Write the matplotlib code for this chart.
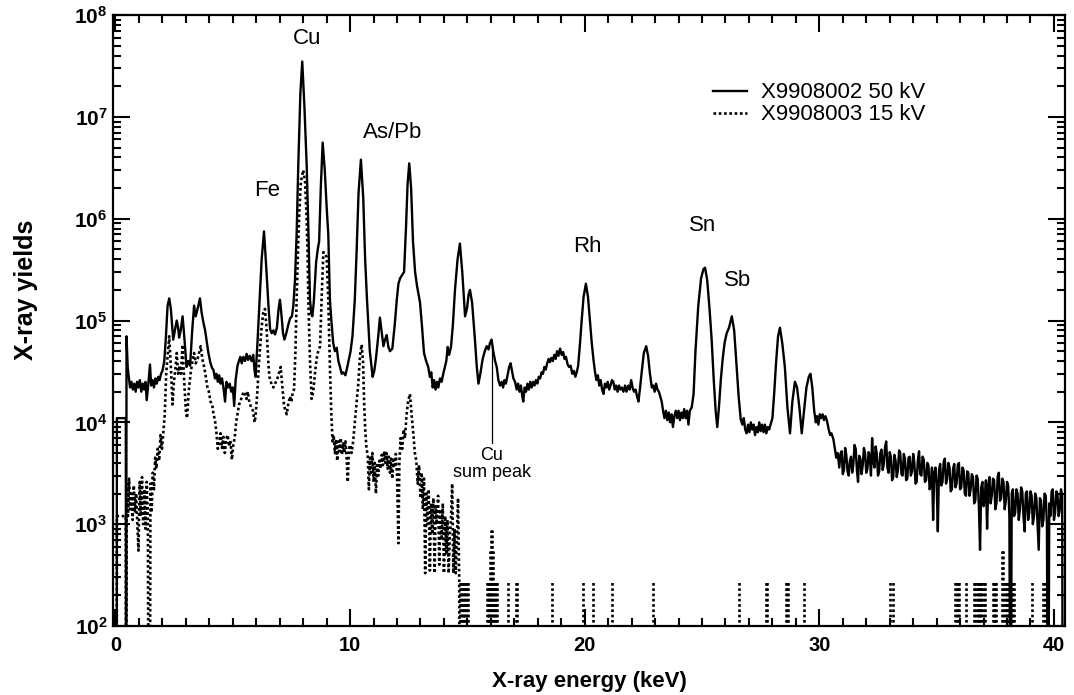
import numpy as np
import matplotlib
matplotlib.use('Agg')
import matplotlib.pyplot as plt
from matplotlib.ticker import MultipleLocator, LogLocator, NullFormatter

plt.rcParams['font.family'] = 'Liberation Sans'
plt.rcParams['mathtext.fontset'] = 'custom'
plt.rcParams['mathtext.rm'] = 'Liberation Sans'
plt.rcParams['mathtext.bf'] = 'Liberation Sans:bold'

# ---- 50 kV spectrum (X9908002), energy in keV, counts ----
# a count of 1 means "empty channel" (falls below the 10^2 axis floor)
e50 = [0.05, 0.06, 0.44, 0.45, 0.47, 0.52, 0.55, 0.62, 0.68, 0.74,
       0.80, 0.86, 0.92, 0.98, 1.04, 1.10, 1.16, 1.22, 1.28, 1.33,
       1.40, 1.47, 1.52, 1.58, 1.64, 1.70, 1.76, 1.82, 1.88, 1.94,
       2.00, 2.08, 2.15, 2.22, 2.29, 2.36, 2.46, 2.53, 2.61, 2.67,
       2.71, 2.78, 2.86, 2.93, 3.03, 3.10, 3.18, 3.27, 3.35, 3.42,
       3.46, 3.53, 3.60, 3.67, 3.75, 3.82, 3.90, 3.96, 4.05, 4.12,
       4.17, 4.24, 4.30, 4.36, 4.42, 4.48, 4.54, 4.60, 4.67, 4.73,
       4.80, 4.87, 4.93, 5.00, 5.06, 5.12, 5.20, 5.26, 5.32, 5.38,
       5.45, 5.52, 5.59, 5.65, 5.72, 5.80, 5.87, 5.93, 5.97, 6.05,
       6.13, 6.23, 6.33, 6.42, 6.52, 6.59, 6.66, 6.73, 6.80, 6.88,
       6.95, 7.01, 7.08, 7.14, 7.20, 7.28, 7.36, 7.44, 7.52, 7.58,
       7.65, 7.72, 7.79, 7.88, 7.96, 8.05, 8.15, 8.22, 8.29, 8.35,
       8.39, 8.45, 8.55, 8.62, 8.68, 8.75, 8.83, 8.92, 9.00, 9.07,
       9.14, 9.20, 9.28, 9.35, 9.43, 9.50, 9.57, 9.64, 9.71, 9.80,
       9.88, 9.95, 10.02, 10.10, 10.20, 10.28, 10.36, 10.46, 10.56, 10.64,
       10.72, 10.84, 10.96, 11.03, 11.10, 11.20, 11.27, 11.35, 11.42, 11.49,
       11.56, 11.63, 11.70, 11.80, 11.90, 11.99, 12.06, 12.13, 12.22, 12.30,
       12.38, 12.45, 12.52, 12.60, 12.68, 12.77, 12.85, 12.98, 13.06, 13.15,
       13.24, 13.33, 13.40, 13.46, 13.52, 13.58, 13.64, 13.70, 13.76, 13.83,
       13.90, 13.97, 14.04, 14.10, 14.16, 14.22, 14.30, 14.38, 14.47, 14.58,
       14.68, 14.78, 14.90, 14.98, 15.05, 15.11, 15.20, 15.32, 15.40, 15.47,
       15.55, 15.65, 15.74, 15.82, 15.90, 15.96, 16.03, 16.10, 16.18, 16.25,
       16.32, 16.39, 16.46, 16.52, 16.58, 16.64, 16.72, 16.78, 16.84, 16.90,
       16.96, 17.03, 17.10, 17.16, 17.22, 17.28, 17.34, 17.38, 17.44, 17.50,
       17.56, 17.62, 17.68, 17.74, 17.80, 17.86, 17.92, 17.98, 18.04, 18.10,
       18.16, 18.22, 18.28, 18.34, 18.40, 18.46, 18.52, 18.58, 18.64, 18.70,
       18.76, 18.82, 18.88, 18.95, 19.02, 19.08, 19.14, 19.20, 19.27, 19.33,
       19.40, 19.47, 19.54, 19.60, 19.66, 19.72, 19.80, 19.87, 19.95, 20.05,
       20.14, 20.22, 20.30, 20.38, 20.44, 20.50, 20.56, 20.62, 20.68, 20.74,
       20.80, 20.86, 20.92, 20.98, 21.04, 21.10, 21.16, 21.22, 21.28, 21.34,
       21.40, 21.46, 21.52, 21.58, 21.65, 21.72, 21.78, 21.86, 21.92, 21.98,
       22.04, 22.10, 22.17, 22.23, 22.29, 22.36, 22.44, 22.52, 22.62, 22.70,
       22.78, 22.86, 22.92, 22.98, 23.04, 23.10, 23.16, 23.22, 23.28, 23.34,
       23.40, 23.46, 23.52, 23.58, 23.64, 23.70, 23.76, 23.82, 23.88, 23.94,
       24.00, 24.06, 24.12, 24.18, 24.24, 24.30, 24.36, 24.42, 24.48, 24.56,
       24.64, 24.72, 24.84, 24.96, 25.06, 25.13, 25.22, 25.32, 25.41, 25.50,
       25.58, 25.65, 25.72, 25.80, 25.88, 25.96, 26.05, 26.15, 26.27, 26.37,
       26.47, 26.56, 26.65, 26.72, 26.78, 26.84, 26.90, 26.96, 27.02, 27.08,
       27.14, 27.20, 27.26, 27.32, 27.38, 27.44, 27.50, 27.56, 27.62, 27.68,
       27.74, 27.80, 27.86, 27.92, 28.00, 28.08, 28.16, 28.24, 28.32, 28.42,
       28.53, 28.64, 28.75, 28.85, 28.96, 29.05, 29.15, 29.25, 29.35, 29.45,
       29.55, 29.62, 29.70, 29.78, 29.85, 29.90, 29.96, 30.02, 30.08, 30.14,
       30.20, 30.26, 30.32, 30.40, 30.46, 30.52, 30.60, 30.66, 30.72, 30.78]
y50 = [1, 1.1e4, 1.1e4, 1, 7.0e4, 3.5e4, 3.0e4, 2.2e4, 2.5e4, 2.1e4,
       2.4e4, 2.0e4, 2.5e4, 2.2e4, 2.6e4, 2.0e4, 2.4e4, 2.1e4, 2.5e4, 1.65e4,
       2.4e4, 3.7e4, 2.3e4, 2.6e4, 2.2e4, 2.7e4, 2.4e4, 2.8e4, 2.6e4, 3.0e4,
       3.2e4, 4.0e4, 7.0e4, 1.4e5, 1.65e5, 1.3e5, 6.5e4, 8.0e4, 1.0e5, 8.5e4,
       6.8e4, 8.0e4, 1.1e5, 7.0e4, 3.5e4, 4.0e4, 3.6e4, 8.0e4, 1.4e5, 1.1e5,
       1.2e5, 1.4e5, 1.65e5, 1.2e5, 9.5e4, 8.0e4, 6.0e4, 4.8e4, 3.8e4, 3.4e4,
       3.3e4, 2.7e4, 3.0e4, 2.5e4, 2.9e4, 2.4e4, 2.7e4, 2.2e4, 1.6e4, 2.5e4,
       2.2e4, 2.4e4, 2.0e4, 2.2e4, 1.45e4, 2.6e4, 3.6e4, 4.0e4, 4.4e4, 3.8e4,
       4.4e4, 4.0e4, 4.7e4, 4.1e4, 4.5e4, 4.0e4, 4.6e4, 3.2e4, 2.8e4, 6.0e4,
       1.4e5, 4.0e5, 7.5e5, 3.5e5, 1.4e5, 8.2e4, 7.5e4, 8.0e4, 7.3e4, 8.5e4,
       1.3e5, 1.6e5, 1.1e5, 7.5e4, 6.5e4, 7.5e4, 9.0e4, 1.05e5, 1.1e5, 1.4e5,
       2.5e5, 7.0e5, 3.3e6, 1.7e7, 3.5e7, 1.3e7, 3.3e6, 8.0e5, 1.6e5, 1.15e5,
       1.1e5, 1.5e5, 3.7e5, 5.0e5, 6.0e5, 2.0e6, 5.6e6, 3.0e6, 1.3e6, 7.0e5,
       1.6e5, 1.0e5, 6.0e4, 5.0e4, 5.4e4, 4.0e4, 3.5e4, 3.0e4, 3.1e4, 2.9e4,
       3.5e4, 4.2e4, 5.0e4, 7.0e4, 1.6e5, 5.0e5, 1.8e6, 3.8e6, 1.6e6, 4.0e5,
       1.6e5, 5.0e4, 2.8e4, 3.2e4, 4.2e4, 7.0e4, 1.07e5, 7.5e4, 5.6e4, 6.5e4,
       7.2e4, 5.5e4, 5.0e4, 5.3e4, 9.0e4, 1.6e5, 2.3e5, 2.6e5, 2.8e5, 3.0e5,
       8.0e5, 2.2e6, 3.5e6, 2.0e6, 6.0e5, 3.0e5, 2.2e5, 1.5e5, 9.0e4, 4.8e4,
       4.0e4, 3.5e4, 2.8e4, 3.1e4, 2.2e4, 2.6e4, 2.1e4, 2.5e4, 2.2e4, 2.7e4,
       2.5e4, 3.0e4, 3.5e4, 4.0e4, 5.5e4, 4.6e4, 5.5e4, 9.0e4, 2.0e5, 4.0e5,
       5.7e5, 3.0e5, 1.1e5, 1.3e5, 1.8e5, 2.0e5, 1.5e5, 6.5e4, 3.5e4, 2.4e4,
       3.0e4, 4.2e4, 5.0e4, 5.6e4, 5.2e4, 6.0e4, 6.5e4, 5.0e4, 4.0e4, 3.5e4,
       2.6e4, 2.3e4, 2.5e4, 2.2e4, 2.6e4, 2.4e4, 3.0e4, 3.5e4, 3.8e4, 3.2e4,
       2.7e4, 2.5e4, 2.1e4, 2.4e4, 2.0e4, 2.3e4, 1.8e4, 1.6e4, 2.2e4, 2.0e4,
       2.4e4, 2.1e4, 2.5e4, 2.2e4, 2.5e4, 2.3e4, 2.6e4, 2.4e4, 2.8e4, 2.7e4,
       3.1e4, 3.0e4, 3.5e4, 3.3e4, 3.8e4, 4.2e4, 3.9e4, 4.3e4, 4.0e4, 4.6e4,
       4.2e4, 5.0e4, 4.5e4, 5.3e4, 4.6e4, 4.9e4, 4.2e4, 4.4e4, 3.7e4, 3.5e4,
       3.6e4, 3.0e4, 3.2e4, 2.8e4, 3.1e4, 3.6e4, 6.0e4, 1.0e5, 1.7e5, 2.3e5,
       1.7e5, 1.0e5, 6.0e4, 4.0e4, 3.1e4, 2.6e4, 2.9e4, 2.3e4, 2.6e4, 2.1e4,
       1.9e4, 2.4e4, 2.2e4, 2.5e4, 2.1e4, 2.3e4, 2.6e4, 2.5e4, 2.1e4, 2.3e4,
       2.0e4, 2.3e4, 2.1e4, 2.2e4, 2.0e4, 2.3e4, 2.0e4, 2.3e4, 2.1e4, 2.6e4,
       2.2e4, 2.0e4, 2.1e4, 1.8e4, 1.6e4, 2.2e4, 3.3e4, 4.8e4, 5.6e4, 4.5e4,
       3.0e4, 2.2e4, 2.3e4, 2.0e4, 2.4e4, 2.1e4, 2.0e4, 1.8e4, 1.6e4, 1.3e4,
       1.1e4, 1.3e4, 1.05e4, 1.25e4, 1.0e4, 1.2e4, 9.0e3, 1.15e4, 1.3e4, 1.1e4,
       1.3e4, 1.05e4, 1.25e4, 1.1e4, 1.35e4, 1.1e4, 1.3e4, 9.5e3, 1.3e4, 1.4e4,
       1.9e4, 5.0e4, 1.4e5, 2.6e5, 3.2e5, 3.3e5, 2.5e5, 1.3e5, 6.5e4, 2.6e4,
       1.3e4, 9.0e3, 1.4e4, 2.6e4, 4.2e4, 6.0e4, 7.5e4, 8.5e4, 1.1e5, 8.0e4,
       3.6e4, 1.8e4, 1.07e4, 9.5e3, 1.1e4, 8.5e3, 7.8e3, 9.5e3, 8.0e3, 1.0e4,
       8.5e3, 9.5e3, 7.5e3, 9.0e3, 8.0e3, 1.0e4, 8.2e3, 9.5e3, 8.0e3, 9.5e3,
       7.8e3, 9.0e3, 8.5e3, 9.5e3, 1.1e4, 2.0e4, 4.0e4, 7.0e4, 8.5e4, 6.0e4,
       3.5e4, 1.4e4, 7.8e3, 1.6e4, 2.5e4, 2.2e4, 1.4e4, 7.8e3, 1.3e4, 2.2e4,
       2.8e4, 3.0e4, 2.2e4, 1.3e4, 1.0e4, 1.15e4, 9.5e3, 1.2e4, 1.1e4, 1.2e4,
       1.05e4, 1.15e4, 1.05e4, 8.5e3, 7.5e3, 7.8e3, 6.8e3, 5.5e3, 4.5e3, 5.0e3]

# noisy high-energy tail of the 50 kV run
e50_tail = [30.85, 30.90, 30.95, 31.00, 31.05, 31.10, 31.15, 31.20, 31.25, 31.30,
            31.35, 31.40, 31.45, 31.50, 31.55, 31.60, 31.65, 31.70, 31.75, 31.80,
            31.85, 31.90, 31.95, 32.00, 32.05, 32.10, 32.15, 32.20, 32.25, 32.30,
            32.35, 32.40, 32.45, 32.50, 32.55, 32.60, 32.65, 32.70, 32.75, 32.80,
            32.85, 32.90, 32.95, 33.00, 33.05, 33.10, 33.15, 33.20, 33.25, 33.30,
            33.35, 33.40, 33.45, 33.50, 33.55, 33.60, 33.65, 33.70, 33.75, 33.80,
            33.85, 33.90, 33.95, 34.00, 34.05, 34.10, 34.15, 34.20, 34.25, 34.30,
            34.35, 34.40, 34.45, 34.50, 34.55, 34.60, 34.65, 34.70, 34.75, 34.80,
            34.85, 34.90, 34.95, 35.00, 35.05, 35.10, 35.15, 35.20, 35.25, 35.30,
            35.35, 35.40, 35.45, 35.50, 35.55, 35.60, 35.65, 35.70, 35.75, 35.80,
            35.85, 35.90, 35.95, 36.00, 36.05, 36.10, 36.15, 36.20, 36.25, 36.30,
            36.35, 36.40, 36.45, 36.50, 36.55, 36.60, 36.65, 36.70, 36.75, 36.80,
            36.85, 36.90, 36.95, 37.00, 37.05, 37.10, 37.15, 37.20, 37.25, 37.30,
            37.35, 37.40, 37.45, 37.50, 37.55, 37.60, 37.65, 37.70, 37.75, 37.80,
            37.85, 37.90, 37.95, 38.00, 38.05, 38.10, 38.15, 38.20, 38.25, 38.30,
            38.35, 38.40, 38.45, 38.50, 38.55, 38.60, 38.65, 38.70, 38.75, 38.80,
            38.85, 38.90, 38.95, 39.00, 39.05, 39.10, 39.15, 39.20, 39.25, 39.30,
            39.35, 39.40, 39.45, 39.50, 39.55, 39.60, 39.65, 39.70, 39.75, 39.80,
            39.85, 39.90, 39.95, 40.00, 40.05, 40.10, 40.15, 40.20, 40.25, 40.30,
            40.35, 40.38]
y50_tail = [3.6e3, 4.9e3, 5.2e3, 3.1e3, 3.4e3, 5.6e3, 4.8e3, 3.3e3, 3.0e3, 4.2e3,
            4.6e3, 3.2e3, 3.9e3, 6.0e3, 5.5e3, 3.4e3, 2.6e3, 4.7e3, 4.4e3, 3.1e3,
            3.8e3, 5.6e3, 5.0e3, 3.2e3, 3.5e3, 5.1e3, 4.7e3, 3.0e3, 7.0e3, 4.1e3,
            3.6e3, 5.8e3, 4.9e3, 3.0e3, 3.3e3, 5.0e3, 5.4e3, 3.4e3, 3.9e3, 5.7e3,
            6.5e3, 3.6e3, 3.2e3, 5.1e3, 4.6e3, 2.7e3, 2.9e3, 4.8e3, 4.2e3, 2.9e3,
            3.4e3, 5.3e3, 5.0e3, 3.1e3, 3.0e3, 4.9e3, 4.4e3, 2.7e3, 2.8e3, 4.5e3,
            4.6e3, 3.0e3, 3.3e3, 4.9e3, 4.0e3, 2.5e3, 2.6e3, 4.3e3, 5.2e3, 3.1e3,
            3.0e3, 4.6e3, 4.3e3, 2.6e3, 2.7e3, 4.0e3, 3.8e3, 2.2e3, 2.4e3, 3.6e3,
            1.1e3, 3.2e3, 3.6e3, 2.5e3, 8.5e2, 3.4e3, 3.9e3, 2.4e3, 2.6e3, 4.1e3,
            4.4e3, 2.5e3, 2.8e3, 4.0e3, 3.6e3, 2.1e3, 2.2e3, 3.5e3, 3.9e3, 2.3e3,
            2.5e3, 3.8e3, 4.0e3, 2.2e3, 2.3e3, 3.6e3, 3.4e3, 2.0e3, 1.9e3, 3.3e3,
            3.2e3, 1.9e3, 2.2e3, 3.1e3, 2.9e3, 1.6e3, 1.7e3, 3.0e3, 2.8e3, 1.5e3,
            5.6e2, 2.3e3, 2.6e3, 1.5e3, 1.8e3, 2.7e3, 9.0e2, 2.4e3, 2.9e3, 1.6e3,
            1.9e3, 2.8e3, 2.7e3, 1.4e3, 1.6e3, 2.9e3, 3.2e3, 1.7e3, 1.8e3, 2.8e3,
            2.6e3, 1.4e3, 1.7e3, 2.6e3, 2.4e3, 1.2e3, 1, 2.0e3, 2.2e3, 1.2e3,
            1.3e3, 2.2e3, 2.0e3, 1.1e3, 1.4e3, 2.3e3, 2.1e3, 1.2e3, 8.5e2, 2.0e3,
            2.1e3, 1.1e3, 1.3e3, 2.1e3, 1.9e3, 1.0e3, 1.2e3, 2.0e3, 1.8e3, 1.0e3,
            5.6e2, 1.8e3, 1.7e3, 9.5e2, 1.1e3, 2.0e3, 1.9e3, 1.0e3, 1, 1.6e3,
            1.2e3, 2.1e3, 2.2e3, 1.1e3, 1.3e3, 2.1e3, 2.0e3, 1.2e3, 1.4e3, 2.2e3,
            1.9e3, 1]

# ---- 15 kV spectrum (X9908003) ----
e15 = [0.05, 0.06, 0.44, 0.45, 0.48, 0.53, 0.58, 0.63, 0.68, 0.73,
       0.78, 0.83, 0.88, 0.93, 0.98, 1.03, 1.08, 1.13, 1.18, 1.23,
       1.28, 1.33, 1.38, 1.42, 1.46, 1.49, 1.54, 1.59, 1.64, 1.69,
       1.74, 1.80, 1.86, 1.92, 1.98, 2.04, 2.10, 2.16, 2.22, 2.29,
       2.36, 2.43, 2.49, 2.55, 2.61, 2.67, 2.73, 2.79, 2.86, 2.93,
       3.00, 3.05, 3.12, 3.20, 3.28, 3.35, 3.42, 3.50, 3.56, 3.63,
       3.70, 3.78, 3.85, 3.92, 3.98, 4.05, 4.12, 4.18, 4.24, 4.30,
       4.36, 4.42, 4.48, 4.54, 4.60, 4.66, 4.72, 4.78, 4.84, 4.90,
       4.96, 5.02, 5.08, 5.14, 5.20, 5.27, 5.34, 5.40, 5.46, 5.52,
       5.58, 5.64, 5.70, 5.78, 5.86, 5.93, 5.97, 6.04, 6.12, 6.23,
       6.30, 6.37, 6.43, 6.47, 6.52, 6.56, 6.62, 6.68, 6.73, 6.80,
       6.88, 6.96, 7.04, 7.10, 7.18, 7.24, 7.30, 7.36, 7.44, 7.50,
       7.56, 7.61, 7.67, 7.72, 7.78, 7.83, 7.90, 8.00, 8.08, 8.15,
       8.19, 8.22, 8.29, 8.36, 8.43, 8.50, 8.57, 8.64, 8.72, 8.78,
       8.86, 8.93, 9.00, 9.07, 9.14, 9.20, 9.25, 9.30, 9.35, 9.40,
       9.45, 9.50, 9.55, 9.60, 9.65, 9.70, 9.75, 9.80, 9.85, 9.90,
       9.95, 10.00, 10.06, 10.13, 10.20, 10.28, 10.35, 10.42, 10.49, 10.55,
       10.60, 10.65, 10.70, 10.75, 10.80, 10.85, 10.90, 10.95, 11.00, 11.05,
       11.10, 11.15, 11.20, 11.25, 11.30, 11.35, 11.40, 11.45, 11.50, 11.55,
       11.60, 11.65, 11.70, 11.75, 11.80, 11.85, 11.90, 11.95, 12.00, 12.06,
       12.10, 12.15, 12.22, 12.28, 12.34, 12.40, 12.47, 12.55, 12.62, 12.70,
       12.76, 12.82, 12.88, 12.94, 13.00, 13.05, 13.10, 13.15, 13.20, 13.25,
       13.30, 13.35, 13.40, 13.45, 13.50, 13.55, 13.60, 13.65, 13.70, 13.75,
       13.80, 13.85, 13.90, 13.95, 14.00, 14.05, 14.10, 14.15, 14.20, 14.25,
       14.30, 14.35, 14.40, 14.45, 14.50, 14.55, 14.60, 14.65, 14.68]
y15 = [1, 1.2e3, 1.2e3, 1, 2.5e3, 1.2e3, 2.8e3, 1.4e3, 2.0e3, 1.1e3,
       2.4e3, 1.3e3, 2.0e3, 1.0e3, 5.5e2, 2.6e3, 1.2e3, 2.9e3, 1.0e3, 2.2e3,
       9.0e2, 2.6e3, 1.2e3, 1, 1, 2.5e3, 1.3e3, 3.2e3, 2.2e3, 4.5e3,
       3.5e3, 5.5e3, 4.2e3, 7.5e3, 5.5e3, 8.0e3, 1.2e4, 3.0e4, 4.5e4, 7.0e4,
       3.5e4, 1.5e4, 2.5e4, 3.3e4, 4.8e4, 3.0e4, 3.6e4, 3.0e4, 5.8e4, 2.5e4,
       1.3e4, 1.1e4, 2.0e4, 3.0e4, 4.0e4, 4.8e4, 3.8e4, 4.2e4, 4.8e4, 5.6e4,
       4.2e4, 3.5e4, 2.8e4, 2.2e4, 2.0e4, 1.6e4, 1.5e4, 1.2e4, 1.05e4, 8.0e3,
       5.5e3, 6.2e3, 7.8e3, 5.6e3, 7.2e3, 5.0e3, 6.8e3, 7.5e3, 5.8e3, 6.6e3,
       4.3e3, 6.0e3, 7.0e3, 1.0e4, 1.2e4, 1.5e4, 1.65e4, 1.8e4, 2.0e4, 1.9e4,
       1.7e4, 2.0e4, 1.6e4, 1.4e4, 1.3e4, 1.0e4, 1.15e4, 1.9e4, 4.0e4, 8.7e4,
       1.2e5, 1.3e5, 9.0e4, 6.0e4, 3.7e4, 2.8e4, 2.5e4, 2.3e4, 2.2e4, 2.4e4,
       2.6e4, 3.0e4, 3.5e4, 2.4e4, 1.5e4, 1.3e4, 1.2e4, 1.5e4, 1.8e4, 1.6e4,
       2.0e4, 2.1e4, 5.0e4, 1.6e5, 5.0e5, 1.1e6, 2.3e6, 3.0e6, 2.3e6, 1.0e6,
       4.0e5, 1.6e5, 4.0e4, 1.7e4, 2.0e4, 3.0e4, 4.2e4, 5.0e4, 5.6e4, 1.5e5,
       4.7e5, 4.5e5, 4.2e5, 1.6e5, 3.5e4, 1.2e4, 6.5e3, 7.5e3, 5.0e3, 6.8e3,
       4.2e3, 6.5e3, 5.2e3, 7.0e3, 4.8e3, 6.2e3, 5.0e3, 6.5e3, 4.5e3, 2.6e3,
       5.5e3, 6.0e3, 5.0e3, 6.5e3, 1.0e4, 1.6e4, 2.4e4, 4.5e4, 5.8e4, 4.0e4,
       1.5e4, 8.0e3, 5.5e3, 4.8e3, 2.2e3, 4.5e3, 3.2e3, 5.0e3, 2.6e3, 4.0e3,
       2.0e3, 3.8e3, 3.0e3, 4.2e3, 3.5e3, 4.8e3, 3.8e3, 5.2e3, 4.0e3, 5.0e3,
       3.5e3, 4.6e3, 3.2e3, 4.4e3, 2.8e3, 4.5e3, 3.6e3, 4.9e3, 3.0e3, 6.5e2,
       4.0e3, 7.0e3, 5.5e3, 8.5e3, 7.0e3, 1.15e4, 1.6e4, 1.9e4, 1.2e4, 7.5e3,
       5.0e3, 4.2e3, 2.5e3, 3.8e3, 1.8e3, 3.2e3, 1.4e3, 2.8e3, 3.3e2, 2.0e3,
       1.0e3, 2.2e3, 3.5e2, 1.6e3, 8.0e2, 1.8e3, 3.3e2, 1.5e3, 1.0e3, 1.9e3,
       4.0e2, 1.4e3, 7.0e2, 1.6e3, 3.3e2, 1.2e3, 5.0e2, 1.1e3, 3.3e2, 8.0e2,
       1.1e3, 2.5e3, 3.3e2, 9.0e2, 3.3e2, 7.0e2, 1.8e3, 2.8e2, 1]

# above ~14.7 keV the 15 kV run only has isolated single counts
spike_e = [14.70, 14.74, 14.78, 14.82, 14.86, 14.90, 14.94, 14.98, 15.02,
           15.82, 15.86, 15.90, 15.94, 15.98, 16.02, 16.06, 16.10, 16.14, 16.18, 16.22, 16.26,
           16.75, 17.08, 17.12, 18.60, 19.94, 20.37, 21.18, 22.90, 26.59,
           27.74, 27.78, 28.58, 28.62, 28.66, 29.35,
           33.00, 33.15,
           35.80, 35.85, 35.90, 35.95, 36.25,
           36.60, 36.65, 36.70, 36.75, 36.80, 36.85, 36.90, 36.95, 37.00, 37.05,
           37.40, 37.45, 37.50, 37.55,
           37.80, 37.84, 37.90, 37.95, 38.00, 38.05, 38.10, 38.15, 38.20, 38.25, 38.30,
           39.05, 39.55, 39.60, 39.65]
spike_top = [275, 275, 275, 275, 275, 275, 275, 275, 275,
             275, 275, 275, 275, 550, 870, 870, 550, 275, 275, 275, 275,
             275, 275, 275, 275, 275, 275, 275, 275, 275,
             275, 275, 275, 275, 275, 275,
             275, 275,
             275, 275, 275, 275, 275,
             275, 275, 275, 275, 275, 275, 275, 275, 275, 275,
             275, 275, 275, 275,
             560, 560, 275, 275, 275, 275, 275, 275, 275, 275, 275,
             275, 275, 275, 275]

# peak labels: (text, energy keV, yield)
peak_names = ['Cu', 'Fe', 'As/Pb', 'Rh', 'Sn', 'Sb']
peak_x = [8.16, 6.46, 11.83, 20.1, 25.04, 26.53]
peak_y = [5.9e7, 1.9e6, 7.1e6, 5.3e5, 8.6e5, 2.5e5]

fig = plt.figure(figsize=(10.74, 6.95), dpi=100)
ax = fig.add_axes([0.1052, 0.0993, 0.8864, 0.879])

dots = (0, (1, 1))
ax.plot(e50 + e50_tail, y50 + y50_tail, color='black', lw=1.7,
        label='X9908002 50 kV')
ax.plot(e15, y15, color='black', lw=1.9, linestyle=dots,
        label='X9908003 15 kV')
ax.vlines(spike_e, 1, spike_top, colors='black', lw=1.9, linestyles=dots)

ax.set_yscale('log')
ax.set_ylim(1e2, 1e8)
ax.set_xlim(-0.107, 40.47)

# ticks all inward, on all four sides
ax.xaxis.set_major_locator(MultipleLocator(10))
ax.xaxis.set_minor_locator(MultipleLocator(1))
ax.set_yticks([10.0 ** k for k in range(2, 9)])
ax.set_yticklabels([r'$\mathbf{10^{%d}}$' % k for k in range(2, 9)])
ax.yaxis.set_minor_locator(LogLocator(base=10, subs=np.arange(2, 10), numticks=30))
ax.yaxis.set_minor_formatter(NullFormatter())
ax.tick_params(which='both', direction='in', top=True, right=True, width=1.5)
ax.tick_params(which='major', length=12)
ax.tick_params(which='minor', length=6)
ax.tick_params(axis='x', labelsize=14.5, pad=7)
ax.tick_params(axis='y', labelsize=15, pad=4)
for lab in ax.get_xticklabels():
    lab.set_fontweight('bold')
for sp in ax.spines.values():
    sp.set_linewidth(1.6)

ax.set_xlabel('X-ray energy (keV)', fontsize=16, fontweight='bold', labelpad=12)
ax.set_ylabel('X-ray yields', fontsize=18, fontweight='bold')
# the y title sits a bit above the middle of the axis in the original
ax.yaxis.set_label_coords(-0.079, 0.55)

for name, x, y in zip(peak_names, peak_x, peak_y):
    ax.text(x, y, name, fontsize=16, ha='center', va='center')

# Cu sum peak marker
ax.plot([16.03, 16.03], [5.8e4, 6.3e3], color='black', lw=0.9)
ax.text(16.05, 3.9e3, 'Cu\nsum peak', fontsize=13, ha='center', va='center',
        linespacing=1.0)

ax.legend(loc='upper left', bbox_to_anchor=(0.630, 0.890), frameon=False,
          fontsize=16, handlelength=1.55, handletextpad=0.63, labelspacing=0.05,
          borderpad=0, borderaxespad=0)

fig.savefig('out.png', dpi=100)
